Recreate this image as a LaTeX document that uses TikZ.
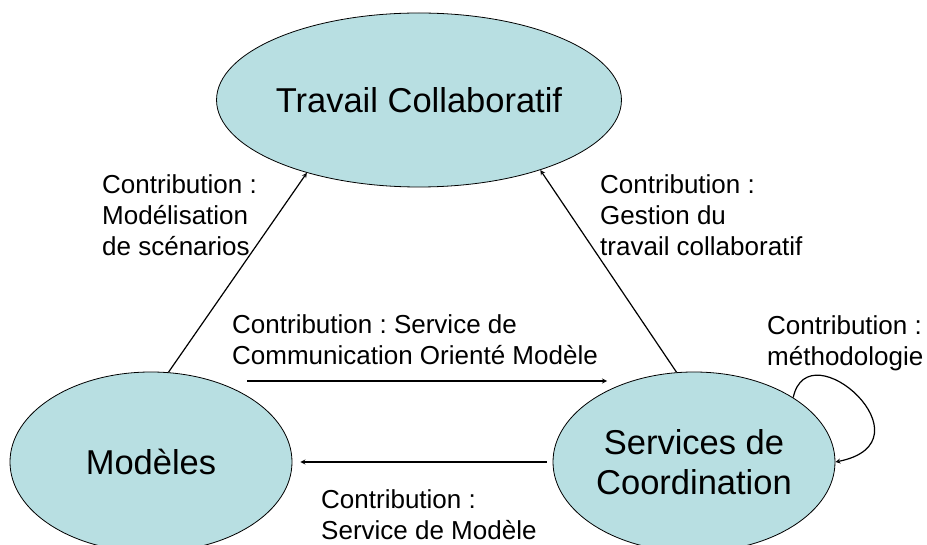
\documentclass[tikz,border=0pt]{standalone}
\usepackage{fontspec}
\setmainfont{Liberation Sans}
\usetikzlibrary{shapes.geometric}
\definecolor{bleuclair}{RGB}{184,223,226}
\frenchspacing

\begin{document}
\begin{tikzpicture}[x=1pt,y=1pt]
      \useasboundingbox (0,0) rectangle (927,544);
      \begin{scope}[every node/.style={ellipse, draw, fill=bleuclair, inner sep=0pt, line width=0.8pt, align=center, font=\fontsize{34.5}{40}\selectfont}]
        \node [minimum width=362pt, minimum height=174pt] (1) at (419,444) {Travail Collaboratif};
        \node [minimum width=282pt, minimum height=180pt] (0) at (151,82) {Modèles};
        \node [minimum width=282pt, minimum height=180pt] (2) at (694,82) {Services de\\Coordination};
      \end{scope}

      \begin{scope}[every node/.style={anchor=west, align=left, inner sep=0pt, font=\fontsize{26}{31}\selectfont}]
        \node (3) at (102,329) {Contribution :\\Modélisation\\de scénarios};
        \node (4) at (600,329) {Contribution :\\Gestion du\\travail collaboratif};
        \node (5) at (232,204) {Contribution : Service de\\Communication Orienté Modèle};
        \node (6) at (767,201) {Contribution :\\méthodologie};
        \node (7) at (321,29) {Contribution :\\Service de Modèle};
      \end{scope}

      \begin{scope}[->,>=stealth, line width=1.2pt]
        \draw (0.79) to (1.213);
        \draw (2.101) to (1.330);
        \draw ([shift={(96,81)}]0.center) to ([shift={(-87,81)}]2.center);
        \draw [shorten <=6pt, shorten >=8pt] (2.west) to (0.east);
        %\draw (2.north east) to [loop right] (2.east);
        \draw (2.33) .. controls +(15,70) and +(100,20) .. (2.east);
      \end{scope}
   \end{tikzpicture}
\end{document}
